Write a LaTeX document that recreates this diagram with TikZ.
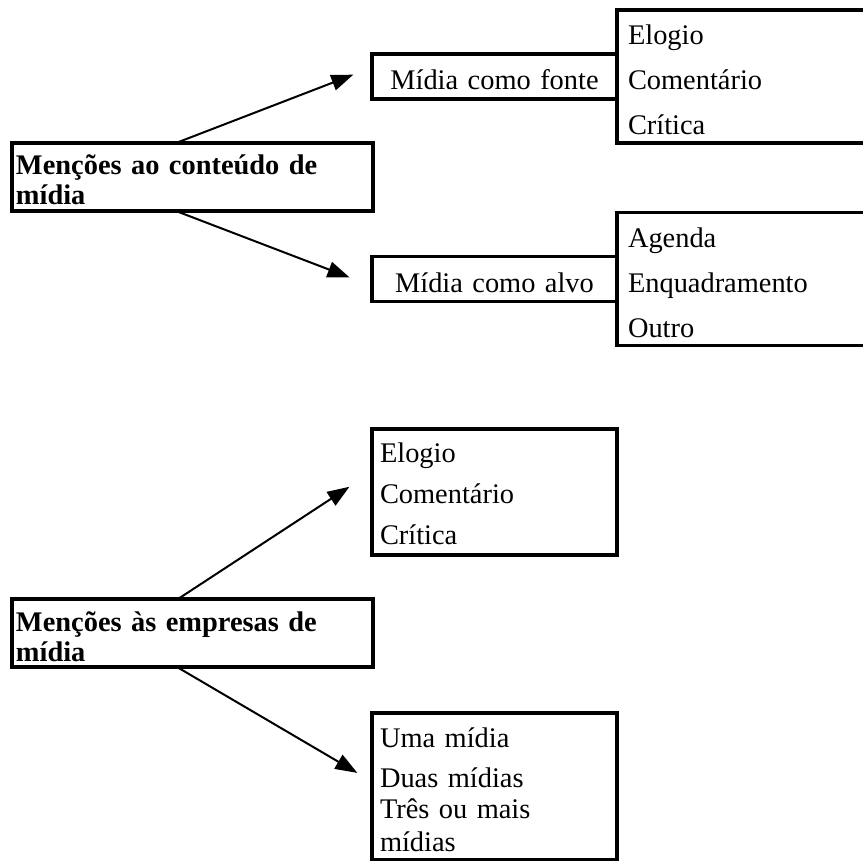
\documentclass[tikz,border=0pt]{standalone}
\usepackage{fontspec}
\setmainfont{Liberation Serif}
\usetikzlibrary{positioning,arrows.meta}
\tikzstyle{boxes} = [rectangle, draw=black, line width=1.6pt, outer sep=0pt, inner ysep=0pt, inner xsep=4pt, align=left, font=\fontsize{14.2pt}{15pt}\selectfont]
\tikzstyle{topic} = [boxes, inner xsep=2pt, text width=176.5pt, text height=16pt, text depth=18pt, font=\bfseries\fontsize{14.2pt}{15pt}\selectfont]
\tikzstyle{middle} = [boxes, align=center, text width=114.5pt, text height=18pt, text depth=4.5pt]
\tikzstyle{sublist} = [boxes, inner xsep=5.5pt, text width=119pt, text height=17.5pt, text depth=49pt, font=\fontsize{14.2pt}{22.5pt}\selectfont]
\tikzstyle{list} = [boxes, text width=114.5pt, text height=17pt]
\tikzstyle{arrow} = [line width=1pt, -{Triangle[length=11pt,width=8pt]}]

\begin{document}
\begin{tikzpicture}
        \useasboundingbox (0,0) rectangle (431.5pt,-430.5pt);

        \node[topic] (m1) at (96.25pt,-88.5pt) {Menções ao conteúdo de\\mídia};
        \node[middle] (fonte) at (247.25pt,-38.25pt) {Mídia como fonte};
        \node[middle] (alvo) at (247.25pt,-139.5pt) {Mídia como alvo};
        \node[sublist, right=0pt of fonte] (tipos1) {Elogio\\Comentário\\Crítica};
        \node[sublist, right=0pt of alvo] (tipos2) {Agenda\\Enquadramento\\Outro};

        \node[topic] (m2) at (96.25pt,-316.5pt) {Menções às empresas de\\mídia};
        \node[list, text depth=46pt, font=\fontsize{14.2pt}{20.5pt}\selectfont] (tipos3) at (247.25pt,-246pt) {Elogio\\Comentário\\Crítica};
        \node[list, text depth=56.5pt, font=\fontsize{14.2pt}{16pt}\selectfont] (qtd) at (247.25pt,-393.25pt) {Uma mídia\\[4pt]Duas mídias\\Três ou mais\\mídias};

        \draw[arrow, shorten >=10pt] ([xshift=-8.25pt]m1.north) -- ([yshift=4.5pt]fonte.west);
        \draw[arrow, shorten >=12pt] ([xshift=-8.25pt]m1.south) -- ([yshift=-3.5pt]alvo.west);

        \draw[arrow, shorten >=13.5pt] ([xshift=-7.25pt]m2.north) -- ([yshift=10pt]tipos3.west);
        \draw[arrow, shorten >=8.5pt] ([xshift=-7.75pt]m2.south) -- ([yshift=2.5pt]qtd.west);

\end{tikzpicture}
\end{document}
